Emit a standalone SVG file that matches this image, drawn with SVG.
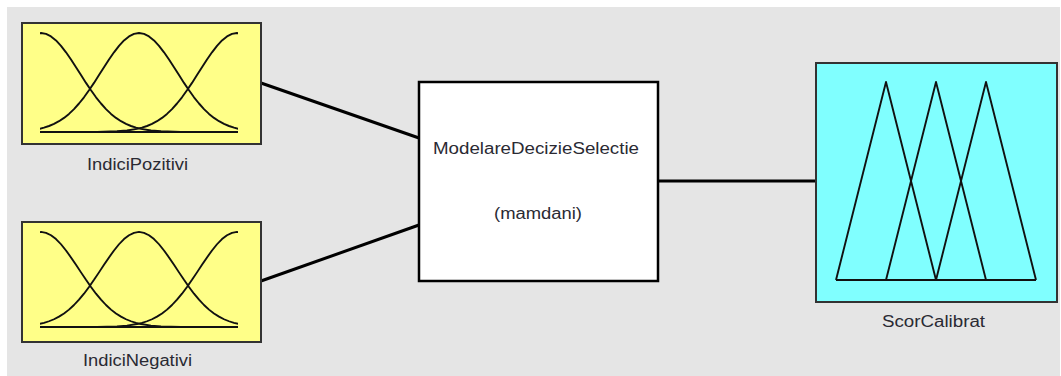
<svg xmlns="http://www.w3.org/2000/svg" width="1061" height="376" viewBox="0 0 1061 376">
<style>
.lbl{font-family:"Liberation Sans",Arial,sans-serif;font-size:16px;fill:#2a2a33;text-anchor:middle}
.in{fill:#ffff88;stroke:#333;stroke-width:2}
.out{fill:#80ffff;stroke:#333;stroke-width:2}
.sys{fill:#fff;stroke:#000;stroke-width:2.5}
.mf{fill:none;stroke:#111;stroke-width:1.9;stroke-linejoin:round}
.conn{stroke:#000;stroke-width:3;fill:none}
</style>
<defs>
<path id="gs" class="mf" d="M-200,0 L-140,-0.1 L-120,-0.7 L-110,-1.5 L-100,-3.1 L-95,-4.3 L-90,-6 L-85,-8.1 L-80,-10.8 L-75,-14.1 L-70,-18.1 L-65,-22.9 L-60,-28.5 L-55,-34.7 L-50,-41.7 L-45,-49.1 L-40,-56.9 L-35,-64.8 L-30,-72.5 L-25,-79.7 L-20,-86.2 L-15,-91.6 L-10,-95.6 L-5,-98.1 L0,-99 L5,-98.1 L10,-95.6 L15,-91.6 L20,-86.2 L25,-79.7 L30,-72.5 L35,-64.8 L40,-56.9 L45,-49.1 L50,-41.7 L55,-34.7 L60,-28.5 L65,-22.9 L70,-18.1 L75,-14.1 L80,-10.8 L85,-8.1 L90,-6 L95,-4.3 L100,-3.1 L110,-1.5 L120,-0.7 L140,-0.1 L200,0"/>
<clipPath id="clipTop" clipPathUnits="userSpaceOnUse"><rect x="40" y="25" width="198" height="115"/></clipPath>
<clipPath id="clipBot" clipPathUnits="userSpaceOnUse"><rect x="40" y="224" width="198" height="112"/></clipPath>
</defs>
<rect x="7" y="7" width="1053" height="369" fill="#e5e5e5"/>
<g id="connectors">
<line class="conn" x1="261" y1="83" x2="419" y2="138"/>
<line class="conn" x1="261" y1="281" x2="419" y2="225"/>
<line class="conn" x1="658" y1="181" x2="816" y2="181"/>
</g>
<g id="IndiciPozitivi">
<rect class="in" x="22" y="23" width="239" height="121"/>
<g clip-path="url(#clipTop)">
<use href="#gs" transform="translate(41,132)"/>
<use href="#gs" transform="translate(139,132)"/>
<use href="#gs" transform="translate(237,132)"/>
</g>
<line class="mf" x1="41" y1="132" x2="237" y2="132"/>
<text class="lbl" x="137.5" y="170" textLength="101" lengthAdjust="spacingAndGlyphs">IndiciPozitivi</text>
</g>
<g id="IndiciNegativi">
<rect class="in" x="22" y="222" width="239" height="120"/>
<g clip-path="url(#clipBot)">
<use href="#gs" transform="translate(41,327) scale(1,0.96)"/>
<use href="#gs" transform="translate(139,327) scale(1,0.96)"/>
<use href="#gs" transform="translate(237,327) scale(1,0.96)"/>
</g>
<line class="mf" x1="41" y1="327" x2="237" y2="327"/>
<text class="lbl" x="137.5" y="366" textLength="109" lengthAdjust="spacingAndGlyphs">IndiciNegativi</text>
</g>
<g id="ModelareDecizieSelectie">
<rect class="sys" x="419" y="82" width="239" height="199"/>
<text class="lbl" x="536" y="154" textLength="206" lengthAdjust="spacingAndGlyphs">ModelareDecizieSelectie</text>
<text class="lbl" x="538" y="219" textLength="88" lengthAdjust="spacingAndGlyphs">(mamdani)</text>
</g>
<g id="ScorCalibrat">
<rect class="out" x="816" y="63" width="241" height="239"/>
<polyline class="mf" points="836,280 886,82 936,280"/>
<polyline class="mf" points="886,280 936,82 986,280"/>
<polyline class="mf" points="936,280 986,82 1036,280"/>
<line class="mf" x1="836" y1="280" x2="1036" y2="280"/>
<text class="lbl" x="933.5" y="327" textLength="103" lengthAdjust="spacingAndGlyphs">ScorCalibrat</text>
</g>
</svg>
